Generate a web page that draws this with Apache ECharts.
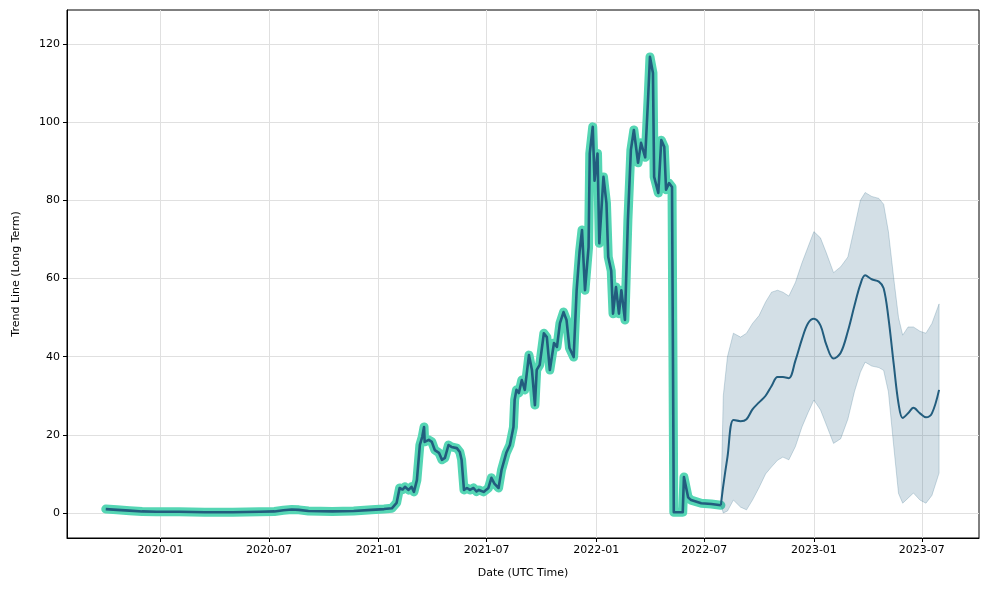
<!DOCTYPE html>
<html>
<head>
<meta charset="utf-8">
<script src="https://cdn.jsdelivr.net/npm/echarts@6/dist/echarts.min.js"></script>
<style>html,body{margin:0;padding:0;background:#fff}#c{width:989px;height:590px}</style>
</head>
<body>
<div id="c"></div>
<script>
// ---- data ----
const histDates = ['2019-10-01','2019-10-20','2019-11-10','2019-12-01','2019-12-25','2020-02-01','2020-03-15','2020-05-01','2020-06-15','2020-07-10','2020-07-25','2020-08-08','2020-08-20','2020-09-05','2020-10-15','2020-11-20','2020-12-20','2021-01-10','2021-01-23','2021-01-31','2021-02-05','2021-02-10','2021-02-14','2021-02-20','2021-02-25','2021-03-01','2021-03-06','2021-03-11','2021-03-15','2021-03-18','2021-03-19','2021-03-26','2021-03-31','2021-04-05','2021-04-12','2021-04-17','2021-04-22','2021-04-28','2021-05-03','2021-05-12','2021-05-17','2021-05-20','2021-05-24','2021-05-29','2021-06-03','2021-06-09','2021-06-14','2021-06-18','2021-06-26','2021-07-04','2021-07-09','2021-07-14','2021-07-21','2021-07-26','2021-08-03','2021-08-09','2021-08-12','2021-08-15','2021-08-17','2021-08-20','2021-08-24','2021-08-29','2021-09-03','2021-09-10','2021-09-15','2021-09-20','2021-09-23','2021-09-28','2021-10-05','2021-10-10','2021-10-15','2021-10-22','2021-10-27','2021-11-01','2021-11-07','2021-11-12','2021-11-17','2021-11-24','2021-11-29','2021-12-04','2021-12-08','2021-12-11','2021-12-13','2021-12-19','2021-12-21','2021-12-26','2021-12-29','2022-01-03','2022-01-06','2022-01-13','2022-01-18','2022-01-21','2022-01-26','2022-01-29','2022-02-03','2022-02-08','2022-02-12','2022-02-18','2022-02-23','2022-02-28','2022-03-05','2022-03-12','2022-03-17','2022-03-24','2022-03-29','2022-04-01','2022-04-06','2022-04-08','2022-04-15','2022-04-20','2022-04-25','2022-04-28','2022-05-03','2022-05-08','2022-05-11','2022-05-26','2022-05-28','2022-06-04','2022-06-09','2022-06-26','2022-07-13','2022-07-29'];
const histValues = [1.0,0.8,0.6,0.4,0.3,0.3,0.2,0.2,0.3,0.4,0.7,0.9,0.8,0.5,0.4,0.5,0.8,1.0,1.2,2.6,6.4,6.0,6.7,5.9,6.7,5.4,8.4,17.4,19.5,22.0,18.2,18.7,18.2,16.1,15.4,13.6,14.1,17.4,16.9,16.6,15.6,13.6,5.9,6.4,5.9,6.4,5.5,5.9,5.4,6.4,9.0,7.5,6.4,11.0,15.4,17.4,17.9,22,29,31.5,30.7,34,31.5,40.4,36.6,27.6,36.6,37.9,46,45,36.6,43.5,42.5,48.6,51.4,49.4,42.2,39.9,57,67,72.4,72.4,57,68,92,98.8,85,92,69,86,79.3,65.5,62,51,57.8,51,57,49.4,75,92.9,98,89.6,94.7,91,106.5,116.7,112.6,86,81.9,95.4,93.7,82.7,84.4,83.4,0.2,0.2,9.2,4,3.3,2.5,2.3,2.0];

const fcDates = ['2022-07-29','2022-08-02','2022-08-09','2022-08-19','2022-08-31','2022-09-10','2022-09-20','2022-10-01','2022-10-12','2022-10-22','2022-11-01','2022-11-10','2022-11-20','2022-12-01','2022-12-12','2022-12-22','2023-01-01','2023-01-12','2023-01-22','2023-02-03','2023-02-15','2023-02-27','2023-03-10','2023-03-20','2023-03-28','2023-04-08','2023-04-20','2023-04-28','2023-05-06','2023-05-15','2023-05-23','2023-05-30','2023-06-08','2023-06-17','2023-06-28','2023-07-08','2023-07-18','2023-07-30'];
const fcMean  = [2.0,7,14.3,23.8,23.5,24,26.5,28.3,30,32.5,34.8,34.8,34.5,39,44.5,48.5,49.7,48,43,39.5,41,46.5,53,58.5,60.8,59.8,59.2,57.5,50,38,28,24.3,25.5,26.9,25.5,24.5,25.5,31.5];
const fcUpper = [3,30,40,46,45,46,48.5,50.5,54,56.5,57,56.5,55.5,59,64,68,72,70.4,66.5,61.5,63,65.5,73,80,82,81,80.5,79,72,60,50,45.5,47.6,47.6,46.5,46,48.5,53.5];
const fcLower = [2.0,0,0.5,3.3,1.5,0.8,3.3,6.5,10,11.8,13.5,14.3,13.6,17,22,25.6,28.9,26.4,22.5,17.8,19,24,31,36,38.6,37.6,37.2,36.5,31,17,5,2.5,3.8,5.1,3.3,2.5,4.5,10.2];

const yTicks = [0,20,40,60,80,100,120];
const xTicks = ['2020-01-01','2020-07-01','2021-01-01','2021-07-01','2022-01-01','2022-07-01','2023-01-01','2023-07-01'];

// ---- helpers ----
const ts = s => Date.parse(s + 'T00:00:00Z');
const pairs = (d, v) => d.map((x, i) => [ts(x), v[i]]);
const histPairs = pairs(histDates, histValues);
const fcPairs = pairs(fcDates, fcMean);
const bandRows = fcDates.map((x, i) => [ts(x), fcLower[i], fcUpper[i]]);
const xTickTs = xTicks.map(ts);
const pad = n => (n < 10 ? '0' : '') + n;

const FONT = 'DejaVu Sans';
const LINE = '#225d7e';
const BAND_FILL = 'rgba(33,94,128,0.2)';
const BAND_EDGE = 'rgba(33,94,128,0.22)';
const chart = echarts.init(document.getElementById('c'), null, {renderer: 'canvas'});
chart.setOption({
  animation: false,
  backgroundColor: '#fff',
  textStyle: {fontFamily: FONT},
  grid: {left: 67, right: 10, top: 10, bottom: 52, show: true, borderColor: '#000', borderWidth: 1, backgroundColor: 'transparent'},
  xAxis: {
    type: 'value',
    min: ts('2019-07-28'),
    max: ts('2023-10-05'),
    name: 'Date (UTC Time)',
    nameLocation: 'middle',
    nameGap: 30,
    nameTextStyle: {fontFamily: FONT, fontSize: 11, color: '#000'},
    axisLine: {onZero: false, lineStyle: {color: '#000', width: 1}},
    axisTick: {show: true, inside: false, length: 4, lineStyle: {color: '#000'}, customValues: xTickTs},
    axisLabel: {customValues: xTickTs, color: '#000', fontFamily: FONT, fontSize: 11, margin: 7,
      formatter: v => { const d = new Date(v); return d.getUTCFullYear() + '-' + pad(d.getUTCMonth() + 1); }},
    splitLine: {show: true, lineStyle: {color: '#e0e0e0', width: 1}}
  },
  yAxis: {
    type: 'value',
    min: -6.4,
    max: 128.7,
    name: 'Trend Line (Long Term)',
    nameLocation: 'middle',
    nameGap: 45,
    nameTextStyle: {fontFamily: FONT, fontSize: 11, color: '#000'},
    axisLine: {show: true, onZero: false, lineStyle: {color: '#000', width: 1}},
    axisTick: {show: true, inside: false, length: 4, lineStyle: {color: '#000'}, customValues: yTicks},
    axisLabel: {customValues: yTicks, color: '#000', fontFamily: FONT, fontSize: 11, margin: 7},
    splitLine: {show: true, lineStyle: {color: '#e0e0e0', width: 1}}
  },
  series: [
    {
      name: 'Actual', type: 'line', data: histPairs, showSymbol: false, z: 1,
      lineStyle: {color: '#55d6b4', width: 9, cap: 'round', join: 'round'}
    },
    {
      name: 'Band', type: 'custom', z: 2, silent: true,
      data: [0],
      renderItem: (params, api) => {
        const up = bandRows.map(r => api.coord([r[0], r[2]]));
        const lo = bandRows.map(r => api.coord([r[0], r[1]])).reverse();
        return {
          type: 'polygon',
          shape: {points: up.concat(lo)},
          style: {fill: BAND_FILL, stroke: BAND_EDGE, lineWidth: 1}
        };
      }
    },
    {
      name: 'Trend', type: 'line', data: histPairs, showSymbol: false, z: 3,
      lineStyle: {color: LINE, width: 2.6, join: 'round'}
    },
    {
      name: 'Forecast', type: 'line', data: fcPairs, showSymbol: false, z: 3, smooth: 0.35,
      lineStyle: {color: LINE, width: 2, join: 'round'}
    }
  ]
});
</script>
</body>
</html>
